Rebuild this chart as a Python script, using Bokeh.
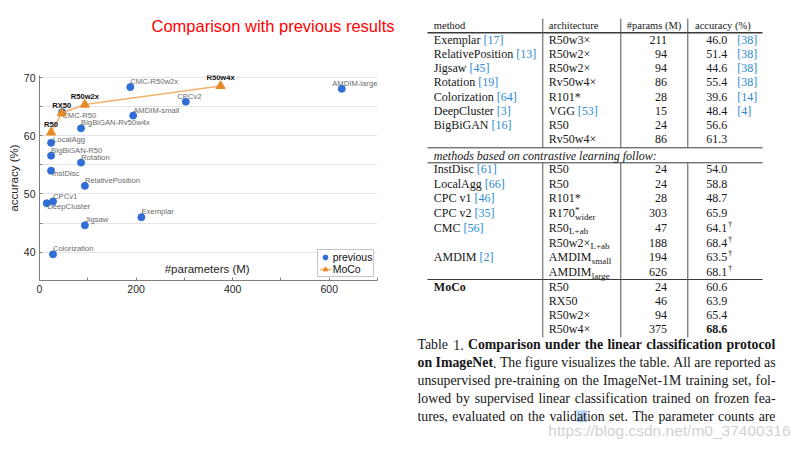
from bokeh.plotting import figure
from bokeh.layouts import row, column
from bokeh.models import ColumnDataSource, FixedTicker, Label, Legend, LegendItem, Range1d, Title
from bokeh.core.properties import value, field
from bokeh.embed import file_html
from bokeh.resources import INLINE

# ---------------- scatter data ----------------
prev_labels = ["Exemplar", "RelativePosition", "Jigsaw", "Rotation", "Colorization", "DeepCluster",
               "BigBiGAN-R50", "BigBiGAN-Rv50w4x", "InstDisc", "LocalAgg", "CPCv1", "CPCv2",
               "CMC-R50", "CMC-R50w2x", "AMDIM-small", "AMDIM-large"]
prev_params = [211, 94, 94, 86, 28, 15, 24, 86, 24, 24, 28, 303, 47, 188, 194, 626]
prev_acc = [46.0, 51.4, 44.6, 55.4, 39.6, 48.4, 56.6, 61.3, 54.0, 58.8, 48.7, 65.9, 64.1, 68.4, 63.5, 68.1]

moco_labels = ["R50", "RX50", "R50w2x", "R50w4x"]
moco_params = [24, 46, 94, 375]
moco_acc = [60.6, 63.9, 65.4, 68.6]

x_ticks = [0, 100, 200, 300, 400, 500, 600, 700]
x_tick_labels = ["0", "", "200", "", "400", "", "600", ""]
y_ticks = [40, 45, 50, 55, 60, 65, 70]
y_tick_labels = ["40", "", "50", "", "60", "", "70"]

# ---------------- table data ----------------
tbl_header = ["method", "architecture", "#params (M)", "accuracy (%)"]
tbl_method = ["Exemplar", "RelativePosition", "Jigsaw", "Rotation", "Colorization", "DeepCluster",
              "BigBiGAN", "", "InstDisc", "LocalAgg", "CPC v1", "CPC v2", "CMC", "", "AMDIM", "",
              "MoCo", "", "", ""]
tbl_method_ref = ["17", "13", "45", "19", "64", "3", "16", "", "61", "66", "46", "35", "56", "", "2", "",
                  "", "", "", ""]
tbl_arch = ["R50w3×", "R50w2×", "R50w2×", "Rv50w4×", "R101*", "VGG", "R50", "Rv50w4×",
            "R50", "R50", "R101*", "R170", "R50", "R50w2×", "AMDIM", "AMDIM",
            "R50", "RX50", "R50w2×", "R50w4×"]
tbl_arch_ref = ["", "", "", "", "", "53"] + [""] * 14
tbl_arch_sup = [""] * 11 + ["*"] + [""] * 8
tbl_arch_sub = [""] * 11 + ["wider", "L+ab", "L+ab", "small", "large"] + [""] * 4
tbl_params = [211, 94, 94, 86, 28, 15, 24, 86, 24, 24, 28, 303, 47, 188, 194, 626, 24, 46, 94, 375]
tbl_acc = [46.0, 51.4, 44.6, 55.4, 39.6, 48.4, 56.6, 61.3, 54.0, 58.8, 48.7, 65.9, 64.1, 68.4, 63.5, 68.1,
           60.6, 63.9, 65.4, 68.6]
tbl_acc_ref = ["38", "38", "38", "38", "14", "4"] + [""] * 14
tbl_dagger = [False] * 12 + [True] * 4 + [False] * 4
tbl_section = "methods based on contrastive learning follow:"

caption = [
    [("Table 1. ", False), ("Comparison under the linear classification protocol", True)],
    [("on ImageNet", True), (". The figure visualizes the table. All are reported as", False)],
    [("unsupervised pre-training on the ImageNet-1M training set, fol-", False)],
    [("lowed by supervised linear classification trained on frozen fea-", False)],
    [("tures, evaluated on the validation set. The parameter counts are", False)],
]
title_text = "Comparison with previous results"
watermark = "https://blog.csdn.net/m0_37400316"

# ---------------- styles ----------------
BLUE = "#2f6ed8"
ORANGE_LINE = "#f3b26b"
ORANGE = "#e88a25"
SANS = "Liberation Sans"
SERIF = "Liberation Serif"
TXT = "#161616"
REF = "#2a8ad4"

# label placement (pixel offsets) for the scatter annotations
label_dx = {"AMDIM-large": -9.6, "CPCv2": -8.6, "LocalAgg": 2.0, "InstDisc": 1.0, "DeepCluster": 0.5}
label_dy = {"CMC-R50": 3.4, "InstDisc": 3.2, "DeepCluster": 3.2, "LocalAgg": -3.0}

# Times metrics (Liberation Serif is metric compatible)
TR = {c: 500 for c in "0123456789"}
TR.update({" ": 250, "!": 333, "#": 500, "%": 833, "(": 333, ")": 333, "*": 500, "+": 564, ",": 250,
           "-": 333, ".": 250, "/": 278, ":": 278, "[": 333, "]": 333, "_": 500, "×": 564, "†": 500})
TR.update(dict(zip("ABCDEFGHIJKLMNOPQRSTUVWXYZ",
                   [722, 667, 667, 722, 611, 556, 722, 722, 333, 389, 722, 611, 889, 722, 722, 556, 722,
                    667, 556, 611, 722, 722, 944, 722, 722, 611])))
TR.update(dict(zip("abcdefghijklmnopqrstuvwxyz",
                   [444, 500, 444, 500, 444, 333, 500, 500, 278, 278, 500, 278, 778, 500, 500, 500, 500,
                    333, 389, 278, 500, 500, 722, 500, 500, 444])))
TB = dict(TR)
TB.update({":": 333})
TB.update(dict(zip("ABCDEFGHIJKLMNOPQRSTUVWXYZ",
                   [722, 667, 722, 722, 667, 611, 778, 778, 389, 500, 778, 667, 944, 722, 778, 611, 778,
                    722, 556, 667, 722, 722, 1000, 722, 722, 667])))
TB.update(dict(zip("abcdefghijklmnopqrstuvwxyz",
                   [500, 556, 444, 556, 444, 333, 500, 556, 278, 333, 556, 278, 833, 556, 500, 556, 556,
                    444, 389, 333, 556, 500, 722, 500, 500, 444])))


def tw(s, size, bold=False):
    d = TB if bold else TR
    return sum(d.get(c, 500) for c in s) * size / 1000.0


def blank_fig(w, h, x0, x1, y0, y1):
    f = figure(width=w, height=h, x_range=Range1d(x0, x1), y_range=Range1d(y0, y1),
               min_border=0, x_axis_location=None, y_axis_location=None,
               toolbar_location=None, output_backend="svg")
    f.outline_line_color = None
    f.background_fill_color = "white"
    f.border_fill_color = "white"
    for g in f.grid:
        g.visible = False
    return f


def render_items(f, items):
    groups = {}
    for it in items:
        groups.setdefault((it["font"], it["style"], it["align"]), []).append(it)
    for (font, style, align), its in groups.items():
        src = ColumnDataSource(dict(x=[i["x"] for i in its], y=[i["y"] for i in its],
                                    text=[i["text"] for i in its],
                                    tsize=[i["size"] for i in its],
                                    tcolor=[i["color"] for i in its]))
        f.text(x="x", y="y", text="text", source=src, text_font=value(font),
               text_font_style=style, text_align=align, text_baseline="middle",
               text_font_size=field("tsize"), text_color=field("tcolor"))


def put(items, x, y, text, size, color=TXT, style="normal", align="left", font=SERIF):
    items.append(dict(x=x, y=y, text=text, size=f"{size}px", color=color, style=style,
                      align=align, font=font))


# ---------------- scatter chart (with slide title) ----------------
p = figure(width=400, height=450, x_range=Range1d(0, 700), y_range=Range1d(35.1, 70.4),
           min_border_left=39, min_border_right=23, min_border_top=75, min_border_bottom=170,
           toolbar_location=None, output_backend="svg", title=title_text)
p.title.text_font = SANS
p.title.text_font_size = "16.5px"
p.title.text_font_style = "normal"
p.title.text_color = "#ff0000"
p.title.align = "left"
p.title.offset = 112
p.title.standoff = 10
# spacer between the slide title and the chart frame
p.add_layout(Title(text=" ", text_font_size="10px", standoff=23), "above")
p.outline_line_color = None
p.background_fill_color = "white"
p.border_fill_color = "white"
p.xgrid.grid_line_color = None
p.ygrid.grid_line_color = "#e6e6e6"
p.xaxis.ticker = FixedTicker(ticks=x_ticks)
p.yaxis.ticker = FixedTicker(ticks=y_ticks)
p.xaxis.major_label_overrides = {t: l for t, l in zip(x_ticks, x_tick_labels)}
p.yaxis.major_label_overrides = {t: l for t, l in zip(y_ticks, y_tick_labels)}
for ax in (p.xaxis, p.yaxis):
    ax.axis_line_color = "#7f7f7f"
    ax.major_tick_line_color = "#7f7f7f"
    ax.major_tick_in = 3
    ax.major_tick_out = 0
    ax.minor_tick_line_color = None
    ax.major_label_text_font = SANS
    ax.major_label_text_font_size = "10.5px"
    ax.major_label_text_color = "#262626"
    ax.major_label_standoff = 4
p.yaxis.axis_label = "accuracy (%)"
p.yaxis.axis_label_text_font = SANS
p.yaxis.axis_label_text_font_size = "11.5px"
p.yaxis.axis_label_text_font_style = "normal"
p.yaxis.axis_label_text_color = "#262626"
p.yaxis.axis_label_standoff = 1

src_prev = ColumnDataSource(dict(
    x=prev_params, y=prev_acc, label=prev_labels,
    dx=[label_dx.get(l, 0.0) for l in prev_labels],
    dy=[label_dy.get(l, -5.5) for l in prev_labels]))
r_prev = p.scatter("x", "y", source=src_prev, marker="circle", size=7,
                   fill_color=BLUE, line_color=BLUE)
p.text("x", "y", text="label", source=src_prev, x_offset=field("dx"), y_offset=field("dy"),
       text_font=value(SANS), text_font_size="7.7px", text_color="#6a6a6a",
       text_align="left", text_baseline="middle")

src_moco = ColumnDataSource(dict(x=moco_params, y=moco_acc, label=moco_labels))
r_line = p.line("x", "y", source=src_moco, line_color=ORANGE_LINE, line_width=1.5)
r_tri = p.scatter("x", "y", source=src_moco, marker="triangle", size=9,
                  fill_color=ORANGE, line_color=ORANGE)
p.text("x", "y", text="label", source=src_moco, y_offset=-8,
       text_font=value(SANS), text_font_size="7.6px", text_font_style="bold",
       text_color="#111111", text_align="center", text_baseline="middle")

p.add_layout(Label(x=347.3, y=37.0, text="#parameters (M)", text_font=SANS,
                   text_font_size="11.5px", text_color="#262626",
                   text_align="center", text_baseline="middle"))

legend = Legend(items=[LegendItem(label="previous", renderers=[r_prev]),
                       LegendItem(label="MoCo", renderers=[r_line, r_tri])],
                location=(277.7, 3.3))
legend.border_line_color = "#8c8c8c"
legend.border_line_width = 1
legend.background_fill_color = "white"
legend.background_fill_alpha = 1.0
legend.padding = 1
legend.margin = 0
legend.spacing = 0
legend.glyph_width = 12
legend.glyph_height = 12
legend.label_height = 12
legend.label_standoff = 2
legend.label_text_font = SANS
legend.label_text_font_size = "10.5px"
legend.label_text_color = "#111111"
p.add_layout(legend)

# ---------------- table + caption ----------------
pr = blank_fig(400, 450, 400, 800, 450, 0)

rows_y = ([39.3 + 14.2 * i for i in range(8)] + [168.3 + 14.77 * i for i in range(8)]
          + [286.0 + 14.33 * i for i in range(4)])

# rules
pr.segment(x0=[427, 427, 427, 427], x1=[762, 762, 762, 762], y0=[32.3, 147.3, 162.3, 279.0],
           y1=[32.3, 147.3, 162.3, 279.0], line_color="#3a3a3a", line_width=[1.6, 1.0, 1.0, 1.0])
vx = [542.3, 620.3, 687.3]
pr.segment(x0=vx + vx, x1=vx + vx, y0=[18] * 3 + [162.3] * 3, y1=[147.3] * 3 + [337] * 3,
           line_color="#555555", line_width=1)

items = []
HS = 10.5
put(items, 433.3, 24.5, tbl_header[0], HS)
put(items, 548.3, 24.5, tbl_header[1], HS)
put(items, 653.5, 24.5, tbl_header[2], HS, align="center")
put(items, 694.5, 24.5, tbl_header[3], HS)

BS = 12
best = max(tbl_acc)
for i, y in enumerate(rows_y):
    m = tbl_method[i]
    if m:
        bold = (m == "MoCo")
        put(items, 433.3, y, m, BS, style="bold" if bold else "normal")
        if tbl_method_ref[i]:
            put(items, 433.3 + tw(m, BS, bold) + 3.0, y, "[" + tbl_method_ref[i] + "]", BS, color=REF)
    a = tbl_arch[i]
    put(items, 548.3, y, a, BS)
    ax_end = 548.3 + tw(a, BS)
    if tbl_arch_ref[i]:
        put(items, ax_end + 3.0, y, "[" + tbl_arch_ref[i] + "]", BS, color=REF)
    if tbl_arch_sup[i]:
        put(items, ax_end + 0.3, y - 3.5, tbl_arch_sup[i], 9)
    if tbl_arch_sub[i]:
        put(items, ax_end + 0.3, y + 3.4, tbl_arch_sub[i], 9)
    put(items, 666.5, y, str(tbl_params[i]), BS, align="right")
    acc_s = f"{tbl_acc[i]:.1f}"
    is_best = (tbl_acc[i] == best and i >= 16)
    put(items, 705.7, y, acc_s, BS, style="bold" if is_best else "normal")
    if tbl_dagger[i]:
        put(items, 705.7 + tw(acc_s, BS) + 0.8, y - 4.0, "†", 8.5)
    if tbl_acc_ref[i]:
        put(items, 736.7, y, "[" + tbl_acc_ref[i] + "]", BS, color=REF)

put(items, 433.3, 155.0, tbl_section, BS, style="italic")

# caption, justified between 417 and 775
CS = 13.8
CX0, CX1 = 417.0, 775.0
hl = None
for li, segs in enumerate(caption):
    y = 344.0 + 18.0 * li
    words = []
    cur = []
    for text, bold in segs:
        parts = text.split(" ")
        for k, part in enumerate(parts):
            if k > 0 and cur:
                words.append(cur)
                cur = []
            if part:
                cur.append((part, bold))
    if cur:
        words.append(cur)
    wsum = sum(tw(t, CS, b) for w in words for t, b in w)
    gap = (CX1 - CX0 - wsum) / (len(words) - 1)
    x = CX0
    for w in words:
        for t, b in w:
            if t == "validation":
                hl = (x + tw("valid", CS), x + tw("validat", CS), y)
            put(items, x, y, t, CS, style="bold" if b else "normal")
            x += tw(t, CS, b)
        x += gap

if hl is not None:
    pr.quad(left=[hl[0]], right=[hl[1]], top=[hl[2] - 6.2], bottom=[hl[2] + 5.8],
            fill_color="#a9c9ea", line_color=None, fill_alpha=0.85)

render_items(pr, items)

pr.text(x=[790], y=[430], text=[watermark], text_font=value(SANS), text_font_size="15.5px",
        text_color="#d2d2d2", text_align="right", text_baseline="middle")

layout = row(column(p), pr)
open("out.html", "w").write(file_html(layout, INLINE, title="MoCo comparison"))
